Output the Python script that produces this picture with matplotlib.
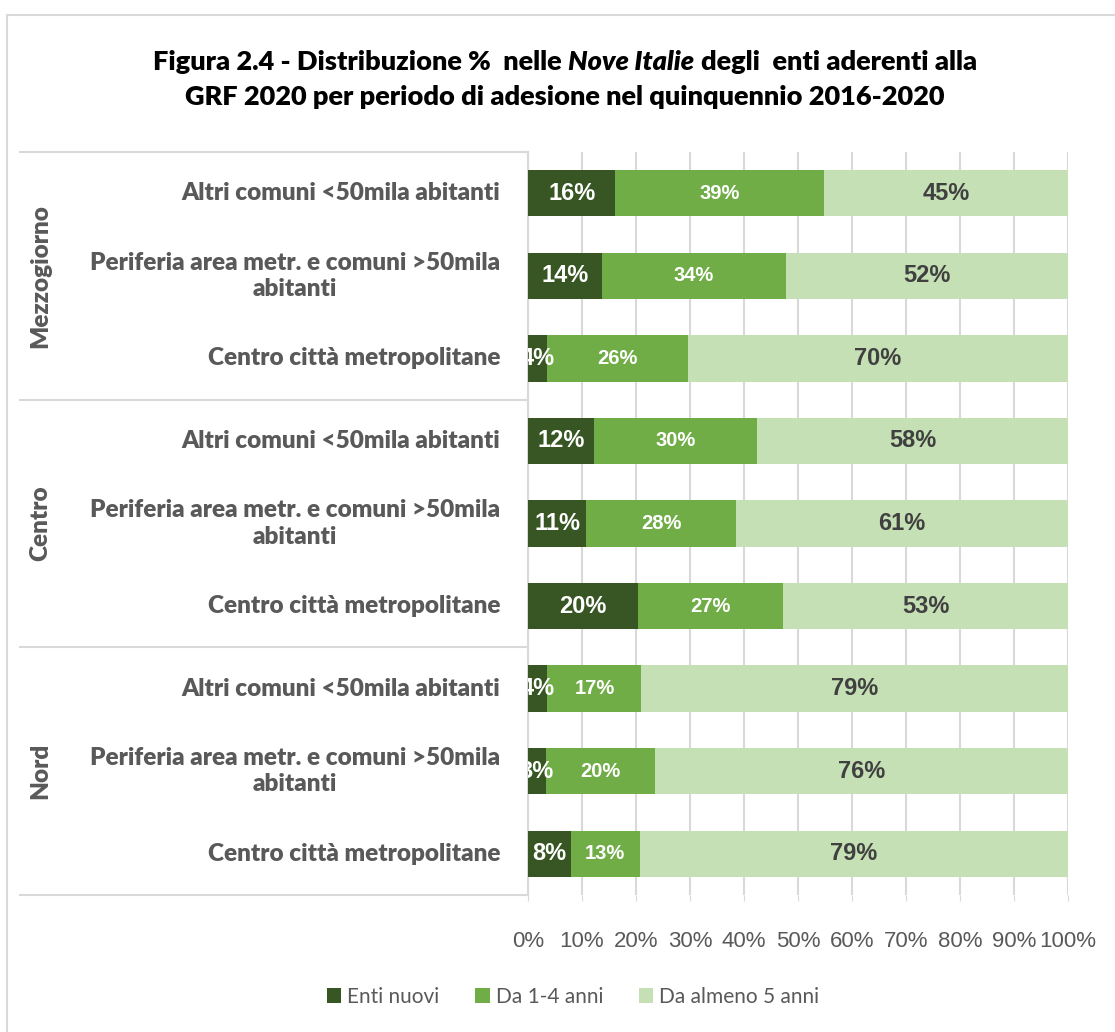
import matplotlib
matplotlib.use('Agg')
import matplotlib.pyplot as plt
from matplotlib.patches import Rectangle
from matplotlib.lines import Line2D
import matplotlib.transforms as mtransforms

categories = [
    'Altri comuni <50mila abitanti',
    'Periferia area metr. e comuni >50mila\nabitanti',
    'Centro città metropolitane',
    'Altri comuni <50mila abitanti',
    'Periferia area metr. e comuni >50mila\nabitanti',
    'Centro città metropolitane',
    'Altri comuni <50mila abitanti',
    'Periferia area metr. e comuni >50mila\nabitanti',
    'Centro città metropolitane',
]
groups = ['Mezzogiorno', 'Centro', 'Nord']

enti_nuovi = [16.2, 13.7, 3.6, 12.2, 10.8, 20.3, 3.6, 3.3, 7.9]
da_1_4 = [38.7, 34.0, 26.0, 30.2, 27.8, 26.9, 17.4, 20.3, 12.8]
da_5 = [45.1, 52.3, 70.4, 57.6, 61.4, 52.8, 79.0, 76.4, 79.3]

series_names = ['Enti nuovi', 'Da 1-4 anni', 'Da almeno 5 anni']
colors = ['#375623', '#70AD47', '#C5E0B4']
tick_labels = ['0%', '10%', '20%', '30%', '40%', '50%', '60%', '70%', '80%', '90%', '100%']

GRAY = '#595959'
GRID = '#D9D9D9'
W, H = 1115, 1032
BOLD = 'heavy'


def px(x, y):
    return x / W, 1 - y / H


fig = plt.figure(figsize=(W / 100, H / 100), dpi=100)
fig.patches.append(Rectangle((7 / W, -0.01), (W + 10) / W, 1 - 15 / H + 0.01,
                             transform=fig.transFigure, fill=False,
                             edgecolor=GRID, linewidth=1.5))

ax = fig.add_axes([528 / W, 1 - 895 / H, 540 / W, 743 / H])
ypos = list(range(len(categories)))

left = [0] * len(categories)
label_styles = [
    dict(color='white', fontsize=17),
    dict(color='white', fontsize=14.5),
    dict(color='#404040', fontsize=17),
]
bars_all = []
for vals, name, col, st in zip([enti_nuovi, da_1_4, da_5], series_names, colors, label_styles):
    bars = ax.barh(ypos, vals, left=left, height=0.56, color=col, label=name, zorder=3)
    bars_all.append(bars)
    for y, v, l in zip(ypos, vals, left):
        ax.text(l + v / 2, y, f'{round(v)}%', ha='center', va='center',
                fontweight='bold', family='Liberation Sans', clip_on=True,
                zorder=4, **st)
    left = [a + b for a, b in zip(left, vals)]

ax.set_xlim(0, 100)
ax.set_ylim(8.5, -0.5)
ax.set_xticks(range(0, 101, 10))
ax.set_xticklabels(tick_labels, family='Liberation Sans', fontsize=16, color=GRAY)
ax.tick_params(axis='x', length=4, color=GRID, pad=22)
ax.set_yticks([])
ax.grid(axis='x', color=GRID, linewidth=1.5, zorder=0)
for s in ['top', 'right', 'bottom']:
    ax.spines[s].set_visible(False)
ax.spines['left'].set_color(GRID)
ax.spines['left'].set_linewidth(1.5)

# category labels and group table
trans = mtransforms.blended_transform_factory(ax.transAxes, ax.transData)
for y, cat in zip(ypos, categories):
    ax.text(-28 / 540, y, cat, transform=trans, ha='right', va='center',
            multialignment='center', family='Lato', fontweight=BOLD,
            fontsize=17.5, color=GRAY, linespacing=1.25)
for b in [-0.5, 2.5, 5.5, 8.5]:
    ax.add_line(Line2D([-508 / 540, 0], [b, b], transform=trans, color=GRID,
                       linewidth=1.5, clip_on=False))
for i, g in enumerate(groups):
    ax.text(-488 / 540, 3 * i + 1, g, transform=trans, rotation=90,
            ha='center', va='center', family='Lato', fontweight=BOLD,
            fontsize=17.5, color=GRAY)

# title with italic part
renderer = fig.canvas.get_renderer()


def rich_line(parts, yc, size):
    texts = []
    for s, style in parts:
        texts.append(fig.text(0, 1 - yc / H, s, family='Lato', fontweight=BOLD,
                              fontstyle=style, fontsize=size, color='black',
                              va='center', ha='left'))
    t1 = fig.text(0, 0, 'a a', family='Lato', fontweight=BOLD, fontsize=size)
    t2 = fig.text(0, 0, 'aa', family='Lato', fontweight=BOLD, fontsize=size)
    sp = t1.get_window_extent(renderer).width - t2.get_window_extent(renderer).width
    t1.remove()
    t2.remove()
    widths = [t.get_window_extent(renderer).width for t in texts]
    total = sum(widths) + sp * (len(texts) - 1)
    x = 565 - total / 2
    for t, w in zip(texts, widths):
        t.set_x(x / W)
        x += w + sp


rich_line([('Figura 2.4 - Distribuzione %  nelle', 'normal'), ('Nove Italie', 'italic'),
           ('degli  enti aderenti alla', 'normal')], 62, 19.5)
rich_line([('GRF 2020 per periodo di adesione nel quinquennio 2016-2020', 'normal')], 97, 19.5)

fig.legend(handles=bars_all, labels=series_names, loc='center',
           bbox_to_anchor=px(573, 997), ncol=3, frameon=False,
           prop={'family': 'Lato', 'size': 15}, labelcolor=GRAY,
           handlelength=0.7, handleheight=0.7, handletextpad=0.3,
           columnspacing=1.7)

fig.savefig('out.png', dpi=100)
